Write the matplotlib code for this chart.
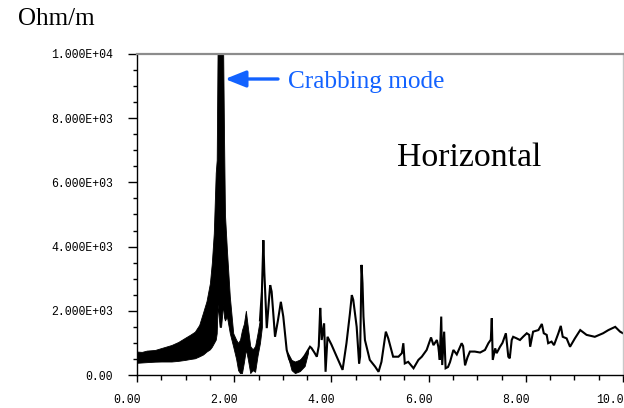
import matplotlib
matplotlib.use("Agg")
import matplotlib.pyplot as plt
from matplotlib.ticker import MultipleLocator, FixedLocator
from matplotlib.transforms import ScaledTranslation

# Frequency (GHz) and impedance (Ohm/m) of the resolved trace above 2.5 GHz
freq = [2.53, 2.57, 2.60, 2.62, 2.67, 2.74, 2.77, 2.81, 2.84, 2.90, 2.96, 3.01,
        3.08, 3.13, 3.18, 3.25, 3.35, 3.45, 3.56, 3.59, 3.65, 3.70, 3.74, 3.77,
        3.79, 3.80, 3.85, 3.88, 3.92, 4.00, 4.11, 4.23, 4.31, 4.38, 4.42, 4.45,
        4.52, 4.57, 4.59, 4.62, 4.64, 4.66, 4.69, 4.79, 4.90, 4.97, 5.03, 5.12,
        5.17, 5.27, 5.38, 5.45, 5.48, 5.51, 5.58, 5.69, 5.79, 5.86, 5.96, 6.05,
        6.10, 6.17, 6.20, 6.23, 6.26, 6.28, 6.32, 6.35, 6.40, 6.44, 6.51, 6.58,
        6.68, 6.71, 6.75, 6.80, 6.85, 6.95, 7.06, 7.16, 7.23, 7.28, 7.30, 7.32,
        7.37, 7.40, 7.47, 7.52, 7.59, 7.64, 7.67, 7.71, 7.74, 7.80, 7.88, 7.95,
        8.02, 8.07, 8.09, 8.15, 8.26, 8.33, 8.37, 8.43, 8.46, 8.53, 8.58, 8.67,
        8.72, 8.76, 8.84, 8.91, 9.01, 9.12, 9.25, 9.42, 9.59, 9.70, 9.84, 9.94,
        10.0]
impedance = [1700, 2600, 4200, 3200, 1460, 2800, 2600, 1800, 1190, 1700, 2280, 1820,
             780, 500, 360, 280, 400, 600, 880, 840, 700, 570, 900, 2090,
             1500, 1090, 1610, 100, 1190, 950, 570, 160, 990, 1900, 2490, 2340,
             1500, 360, 570, 3430, 2860, 1820, 1090, 470, 260, 100, 410, 1350,
             1140, 570, 570, 680, 990, 360, 410, 210, 470, 570, 780, 1170,
             930, 1090, 880, 470, 1820, 310, 1350, 210, 250, 400, 780, 640,
             990, 900, 300, 550, 730, 730, 700, 780, 990, 1100, 1770, 470,
             830, 680, 880, 1000, 1300, 570, 520, 1090, 1190, 1150, 1090, 1200,
             1300, 1250, 880, 1350, 1400, 1590, 1300, 1250, 990, 1040, 930, 1300,
             1530, 1190, 1140, 880, 1140, 1400, 1250, 1190, 1300, 1400, 1500, 1350,
             1300]

# Envelope of the fast-oscillating part of the spectrum (low-frequency region)
band_freq = [0.00, 0.10, 0.20, 0.37, 0.50, 0.71, 0.85, 0.99, 1.10, 1.19, 1.28, 1.36,
             1.43, 1.50, 1.54, 1.58, 1.62, 1.64, 1.66, 1.70, 1.73, 1.77, 1.79, 1.81,
             1.85, 1.91, 1.98, 2.04, 2.08, 2.12, 2.16, 2.20, 2.24, 2.28, 2.33, 2.38,
             2.43, 2.48, 2.53, 2.57]
band_hi = [730, 720, 760, 780, 840, 935, 1030, 1160, 1260, 1350, 1560, 1950,
           2300, 2860, 3500, 4420, 6300, 6700, 10500, 10500, 10500, 10500, 7500, 5000,
           3900, 2440, 1300, 1100, 1000, 1100, 1400, 1600, 2000, 1500, 900, 800,
           900, 1300, 1750, 2600]
band_lo = [380, 390, 400, 415, 420, 420, 440, 470, 500, 520, 580, 640,
           730, 800, 880, 990, 1100, 1300, 2200, 1500, 1500, 2200, 1800, 1700,
           1820, 1300, 880, 500, 150, 60, 60, 400, 800, 500, 60, 150,
           100, 600, 1000, 1500]

# Envelope of the noisy trough between 3.1 and 3.5 GHz
trough_freq = [3.10, 3.18, 3.25, 3.35, 3.45, 3.52]
trough_hi = [700, 470, 420, 480, 600, 800]
trough_lo = [600, 150, 60, 120, 280, 700]

x_ticks = [0, 2, 4, 6, 8, 10]
x_tick_labels = ["0.00", "2.00", "4.00", "6.00", "8.00", "10.00"]
y_ticks = [0, 2000, 4000, 6000, 8000, 10000]
y_tick_labels = ["0.00", "2.000E+03", "4.000E+03", "6.000E+03", "8.000E+03", "1.000E+04"]

blue = "#1262ff"
mono = "Liberation Mono"
serif = "Liberation Serif"

fig = plt.figure(figsize=(6.24, 4.08), dpi=100)
ax = fig.add_axes([137 / 624, 33 / 408, 486 / 624, 321 / 408])

ax.fill_between(band_freq, band_lo, band_hi, color="black", lw=0.6, edgecolor="black")
ax.fill_between(trough_freq, trough_lo, trough_hi, color="black", lw=0.6, edgecolor="black")
ax.plot(freq, impedance, color="black", lw=1.5, solid_joinstyle="miter")

ax.set_xlim(0, 10)
ax.set_ylim(0, 10000)

ax.xaxis.set_major_locator(FixedLocator(x_ticks))
ax.xaxis.set_minor_locator(MultipleLocator(0.5))
ax.yaxis.set_major_locator(FixedLocator(y_ticks))
ax.yaxis.set_minor_locator(MultipleLocator(500))
ax.set_xticklabels(x_tick_labels, fontfamily=mono, fontsize=8.3)
ax.set_yticklabels(y_tick_labels, fontfamily=mono, fontsize=8.3)
ax.tick_params(axis="x", which="major", length=5, width=1, color="black",
               direction="out", pad=9)
ax.tick_params(axis="x", which="minor", length=3.3, width=1, color="black",
               direction="out")
ax.tick_params(axis="y", which="major", length=6.5, width=1, color="black",
               direction="out", pad=10.8)
ax.tick_params(axis="y", which="minor", length=3, width=1, color="black",
               direction="out")

# x tick labels sit slightly left of their ticks
shift = ScaledTranslation(-10 / 100, 0, fig.dpi_scale_trans)
for lbl in ax.get_xticklabels():
    lbl.set_transform(lbl.get_transform() + shift)

for side in ("left", "bottom"):
    ax.spines[side].set_color("black")
    ax.spines[side].set_linewidth(1.0)
ax.spines["top"].set_color("#8c8c8c")
ax.spines["top"].set_linewidth(1.6)
ax.spines["right"].set_color("#c8c8c8")
ax.spines["right"].set_linewidth(1.0)

fig.text(18 / 624, 1 - 25 / 408, "Ohm/m", fontfamily=serif, fontsize=18,
         ha="left", va="baseline")
fig.text(397 / 624, 1 - 166 / 408, "Horizontal", fontfamily=serif, fontsize=24.3,
         ha="left", va="baseline")
fig.text(288 / 624, 1 - 88 / 408, "Crabbing mode", fontfamily=serif, fontsize=18.2,
         color=blue, ha="left", va="baseline")

ax.annotate("", xy=(225 / 624, 1 - 79 / 408), xycoords="figure fraction",
            xytext=(278 / 624, 1 - 79 / 408), textcoords="figure fraction",
            arrowprops=dict(arrowstyle="-|>,head_length=1.25,head_width=0.5",
                            color=blue, lw=2.4, mutation_scale=10,
                            shrinkA=0, shrinkB=0))

fig.savefig("out.png", dpi=100)
